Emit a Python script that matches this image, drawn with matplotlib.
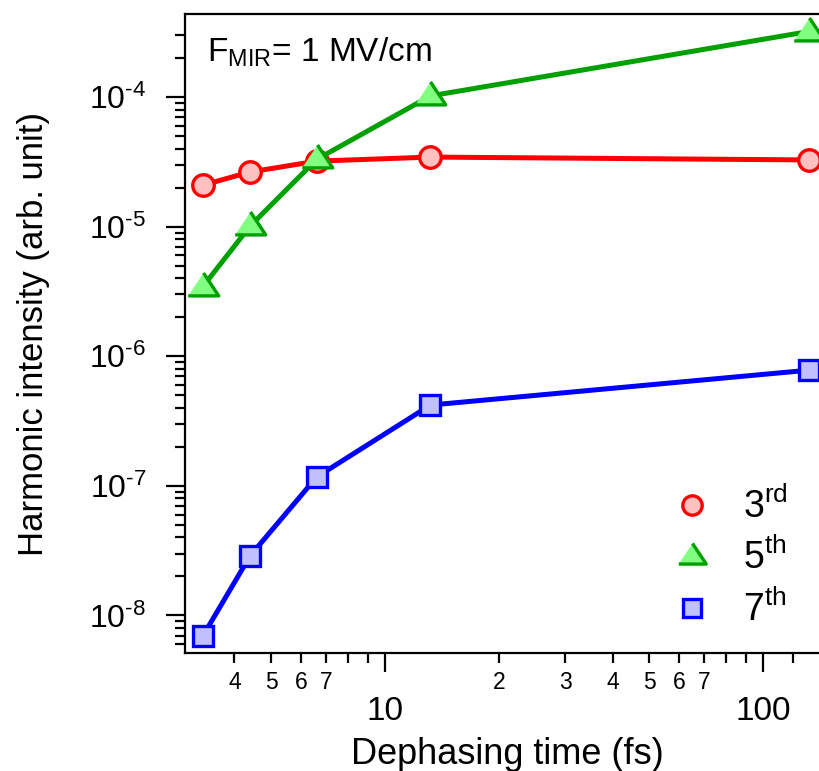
import numpy as np
import matplotlib
matplotlib.use("Agg")
import matplotlib.pyplot as plt
from matplotlib.ticker import FixedLocator, FuncFormatter

plt.rcParams['font.family'] = ['Liberation Sans', 'DejaVu Sans']
plt.rcParams['mathtext.fontset'] = 'custom'
plt.rcParams['mathtext.rm'] = 'Liberation Sans'
plt.rcParams['mathtext.it'] = 'Liberation Sans:italic'
plt.rcParams['mathtext.bf'] = 'Liberation Sans:bold'

# dephasing time (fs)
t_deph = np.array([3.3, 4.4, 6.6, 13.2, 132.0])

# harmonic intensity (arb. unit)
h3 = np.array([2.09e-5, 2.64e-5, 3.2e-5, 3.44e-5, 3.27e-5])
h5 = np.array([3.45e-6, 1.01e-5, 3.3e-5, 1.02e-4, 3.2e-4])
h7 = np.array([6.95e-9, 2.88e-8, 1.17e-7, 4.2e-7, 7.8e-7])

labels = [r'$\mathregular{3^{rd}}$', r'$\mathregular{5^{th}}$', r'$\mathregular{7^{th}}$']

x_minor = [4, 5, 6, 7, 8, 9, 20, 30, 40, 50, 60, 70, 80, 90, 120]
x_minor_lab = [4, 5, 6, 7, 20, 30, 40, 50, 60, 70]

# triangle a bit wider than tall, like the original markers
tri = [(-1, -0.55), (1, -0.55), (0, 0.95)]

fig = plt.figure(figsize=(8.19, 7.71), dpi=100)
ax = fig.add_axes([185/819, 118/771, 644.6/819, 639/771])

ax.plot(t_deph, h3, '-', color='#ff0000', lw=3.6, marker='o', ms=15.5,
        mfc='#ffc0c0', mec='#ff0000', mew=2.4, label=labels[0])
ax.plot(t_deph, h5, '-', color='#00a000', lw=3.6, marker=tri, ms=22,
        mfc='#80ff80', mec='#00a000', mew=2.4, label=labels[1])
ax.plot(t_deph, h7, '-', color='#0000ff', lw=3.6, marker='s', ms=15,
        mfc='#c0c0ff', mec='#0000ff', mew=2.4, label=labels[2])

ax.set_xscale('log')
ax.set_yscale('log')
ax.set_xlim(2.96, 150)
ax.set_ylim(5.13e-9, 4.37e-4)

for s in ['top', 'left', 'bottom', 'right']:
    ax.spines[s].set_linewidth(1.6)

# x axis: Igor-like labels, small digits for minor ticks
ax.xaxis.set_major_locator(FixedLocator([10, 100]))
ax.xaxis.set_major_formatter(FuncFormatter(lambda v, p: '%d' % v))
ax.xaxis.set_minor_locator(FixedLocator(x_minor))
ax.xaxis.set_minor_formatter(FuncFormatter(
    lambda v, p: str(int(round(v / 10 ** np.floor(np.log10(v)))))
    if int(round(v)) in x_minor_lab else ''))
ax.tick_params(axis='x', which='major', direction='out', length=14, width=1.6,
               labelsize=24, pad=17)
ax.tick_params(axis='x', which='minor', direction='out', length=7, width=1.6,
               labelsize=16.5, pad=6)

# y axis
ax.yaxis.set_major_locator(FixedLocator([1e-8, 1e-7, 1e-6, 1e-5, 1e-4]))
ax.yaxis.set_major_formatter(FuncFormatter(
    lambda v, p: r'$\mathregular{10^{\text{-}%d}}$' % abs(int(round(np.log10(v))))))
y_minor = [m * 10.0 ** e for e in range(-9, -3) for m in range(2, 10)]
y_minor = [v for v in y_minor if v < 3.5e-4]
ax.yaxis.set_minor_locator(FixedLocator(y_minor))
ax.tick_params(axis='y', which='major', direction='out', length=14, width=1.6,
               labelsize=23, pad=14)
ax.tick_params(axis='y', which='minor', direction='out', length=7, width=1.6)
ax.tick_params(top=False, right=False, which='both')

ax.set_xlabel('Dephasing time (fs)', fontsize=26, labelpad=7)
ax.set_ylabel('Harmonic intensity (arb. unit)', fontsize=25, labelpad=28)

ax.text(0.034, 0.926, r'$\mathregular{F_{MIR}}$= 1 MV/cm', fontsize=24,
        transform=ax.transAxes, va='baseline', ha='left')

leg = ax.legend(loc='upper left', bbox_to_anchor=(0.717, 0.30), frameon=False,
                fontsize=27, numpoints=1, handlelength=1.0, handletextpad=0.85,
                labelspacing=0.35, markerscale=0.9, borderpad=0.2)
for h in leg.legend_handles:
    h.set_linestyle('None')

fig.savefig('out.png', dpi=100)
